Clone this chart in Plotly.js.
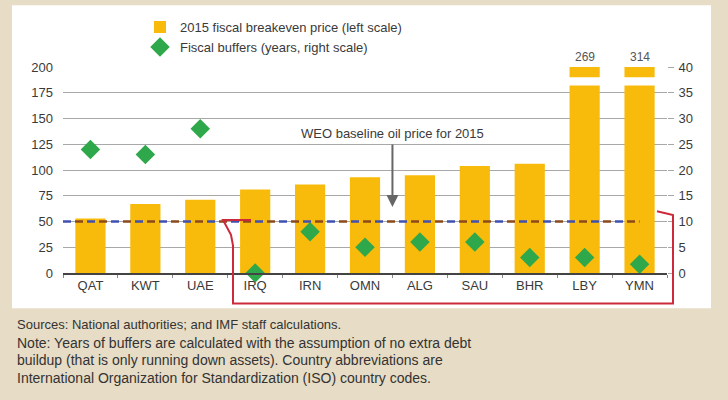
<!DOCTYPE html>
<html>
<head>
<meta charset="utf-8">
<script src="https://cdn.plot.ly/plotly-3.0.1.min.js"></script>
<style>
  body { margin: 0; padding: 0; background: #e7dcc5; }
  #myDiv { width: 728px; height: 400px; }
</style>
</head>
<body>
<div id="myDiv"></div>
<script>
var countries = ["QAT", "KWT", "UAE", "IRQ", "IRN", "OMN", "ALG", "SAU", "BHR", "LBY", "YMN"]
var breakeven = [53, 67, 71, 81, 86, 93, 95, 104, 106, 269, 314]
var buffers = [24, 23, 28, 0, 8, 5, 6, 6, 3, 3, 1.7]
var oilPrice = 50
var leftTicks = [0, 25, 50, 75, 100, 125, 150, 175, 200]
var rightTicks = [0, 5, 10, 15, 20, 25, 30, 35, 40]

var font = 'Liberation Sans, Arial, sans-serif'
var txt = '#3a3a3a'

// plot area in pixels: x 63..667, y 63..273
var L = 63, R = 667, T = 63, B = 273
function px(x) { return (x - L) / (R - L) }
function py(y) { return (B - y) / (B - T) }

var trace1 = {
    type: 'bar',
    name: '2015 fiscal breakeven price (left scale)',
    x: countries,
    y: breakeven,
    width: 0.55,
    marker: { color: '#f9bb0b' },
    hoverinfo: 'x+y'
}

var trace2 = {
    type: 'scatter',
    mode: 'markers',
    name: 'Fiscal buffers (years, right scale)',
    x: countries,
    y: buffers,
    yaxis: 'y2',
    cliponaxis: false,
    marker: { symbol: 'diamond', size: 15, color: '#2ea84a' }
}

var shapes = [
    // white panel
    { type: 'rect', xref: 'paper', yref: 'paper', layer: 'below',
      x0: px(12), x1: px(711), y0: py(0), y1: py(309),
      fillcolor: '#ffffff', line: { width: 0 } },
    // baseline oil price, alternating blue / brown dashes
    { type: 'line', xref: 'x', yref: 'y', x0: -0.5, x1: 10, y0: oilPrice, y1: oilPrice,
      line: { color: '#4050b0', width: 2.5, dash: '8px,16px' } },
    { type: 'line', xref: 'x', yref: 'y', x0: -0.5, x1: 10, y0: oilPrice, y1: oilPrice,
      line: { color: '#8a4a1c', width: 2.5, dash: '0px,12px,8px,4px' } },
    // red bracket
    { type: 'path', xref: 'paper', yref: 'paper', layer: 'above',
      path: 'M ' + px(251) + ',' + py(219) + ' L ' + px(223) + ',' + py(219) +
            ' L ' + px(231) + ',' + py(234) + ' L ' + px(233) + ',' + py(245) +
            ' L ' + px(233) + ',' + py(304) + ' L ' + px(673) + ',' + py(304) +
            ' L ' + px(673) + ',' + py(214) + ' L ' + px(657) + ',' + py(210),
      line: { color: '#cc2a3a', width: 2 } }
]

var annotations = [
    { xref: 'x', yref: 'y', x: 5.5, y: 135, text: 'WEO baseline oil price for 2015',
      showarrow: false, font: { family: font, size: 13, color: txt } },
    { xref: 'x', yref: 'y', x: 5.5, y: 64, text: '', showarrow: true,
      ax: 0, ay: -64, arrowhead: 2, arrowsize: 1.2, arrowwidth: 2, arrowcolor: '#666666' }
]

// broken bars: label and break mark
for (var i = 0; i < breakeven.length; i++) {
    if (breakeven[i] > 200) {
        annotations.push({ xref: 'x', yref: 'y', x: countries[i], y: 200, yshift: 1,
            yanchor: 'bottom', text: String(breakeven[i]), showarrow: false,
            font: { family: font, size: 12, color: '#555555' } })
        shapes.push({ type: 'rect', xref: 'x', yref: 'y', layer: 'above',
            x0: i - 0.35, x1: i + 0.35, y0: 182, y1: 190,
            fillcolor: '#ffffff', line: { width: 0 } })
    }
}

var notes = [
    'Sources: National authorities; and IMF staff calculations.',
    'Note: Years of buffers are calculated with the assumption of no extra debt',
    'buildup (that is only running down assets). Country abbreviations are',
    'International Organization for Standardization (ISO) country codes.'
]
for (var j = 0; j < notes.length; j++) {
    annotations.push({ xref: 'paper', yref: 'paper', x: px(15), y: py(326 + j * 18),
        xanchor: 'left', yanchor: 'middle', text: notes[j], showarrow: false,
        font: { family: font, size: j === 0 ? 13 : 14, color: '#333333' } })
}

var data = [ trace1, trace2 ]

var layout = {
    width: 728,
    height: 400,
    margin: { l: L, r: 728 - R, t: T, b: 400 - B, pad: 0 },
    paper_bgcolor: '#e7dcc5',
    plot_bgcolor: 'rgba(0,0,0,0)',
    font: { family: font, size: 13, color: txt },
    bargap: 0.45,
    showlegend: true,
    legend: {
        x: px(140), y: py(7), xanchor: 'left', yanchor: 'top',
        bgcolor: 'rgba(0,0,0,0)', tracegroupgap: 0,
        font: { family: font, size: 13, color: txt }
    },
    xaxis: {
        type: 'category',
        showgrid: false,
        showline: true, linecolor: '#444444', linewidth: 1.5,
        ticks: 'outside', tickson: 'boundaries', ticklen: 3, tickcolor: '#888888',
        tickfont: { family: font, size: 13, color: txt },
        range: [-0.5, 10.5]
    },
    yaxis: {
        range: [0, 200],
        tickvals: leftTicks,
        showgrid: true, gridcolor: '#a8a8a8', gridwidth: 1,
        zeroline: false, showline: false, ticks: '',
        ticklabelstandoff: 9,
        tickfont: { family: font, size: 13, color: txt }
    },
    yaxis2: {
        range: [0, 40],
        tickvals: rightTicks,
        overlaying: 'y', side: 'right',
        showgrid: false, zeroline: false, showline: false,
        ticks: 'outside', ticklen: 6, tickcolor: '#a8a8a8',
        ticklabelstandoff: 2,
        tickfont: { family: font, size: 13, color: txt }
    },
    shapes: shapes,
    annotations: annotations
}

Plotly.newPlot('myDiv', data, layout, { displayModeBar: false })
</script>
</body>
</html>
